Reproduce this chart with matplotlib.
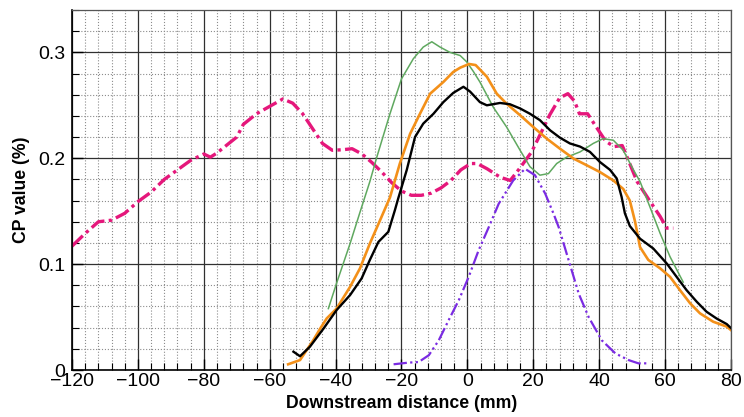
import numpy as np
import matplotlib
matplotlib.use('Agg')
import matplotlib.pyplot as plt
from matplotlib.ticker import MultipleLocator

plt.rcParams['font.family'] = ['Liberation Sans', 'DejaVu Sans']

# -----------------------------
#  Curves
# -----------------------------
pink_x = [-120, -116, -112, -108, -104, -100, -96, -92, -88, -84, -80, -78, -76, -72, -70,
          -68, -64, -60, -56, -53, -50, -47, -44, -41, -38, -35, -32, -29, -26, -23, -20,
          -17, -14, -11, -8, -5, -2, 1, 3, 6, 10, 13, 16, 19.5, 22.5, 25, 28, 30.5, 32.5,
          34, 36.5, 39, 42, 44.5, 47, 49, 51.5, 55.5, 58.5, 60.5, 62.5]
pink_y = [0.117, 0.129, 0.140, 0.1415, 0.148, 0.159, 0.168, 0.180, 0.189, 0.198, 0.204,
          0.201, 0.205, 0.215, 0.220, 0.232, 0.242, 0.249, 0.256, 0.252, 0.242, 0.228,
          0.214, 0.2075, 0.208, 0.209, 0.204, 0.196, 0.187, 0.177, 0.169, 0.165, 0.165,
          0.167, 0.172, 0.179, 0.189, 0.195, 0.195, 0.190, 0.182, 0.179, 0.191, 0.206,
          0.225, 0.241, 0.257, 0.261, 0.254, 0.242, 0.242, 0.230, 0.216, 0.211, 0.212,
          0.197, 0.178, 0.159, 0.145, 0.134, 0.134]

green_x = [-42.2, -39.7, -35.6, -32.6, -29.6, -27.5, -23.5, -20, -16.4, -13.4, -10.8, -8.3,
           -5.3, -2.2, -0.2, 1.8, 3.8, 7.9, 11.9, 16, 19, 22, 24.6, 27.1, 30.1, 34.2, 38.2,
           41.2, 44.3, 47.3, 50.4, 52.4, 55.4, 58.5, 61.5, 65.5]
green_y = [0.058, 0.082, 0.1195, 0.149, 0.178, 0.201, 0.242, 0.275, 0.294, 0.305, 0.310,
           0.305, 0.300, 0.297, 0.291, 0.282, 0.272, 0.248, 0.2295, 0.2075, 0.192, 0.184,
           0.1855, 0.195, 0.201, 0.206, 0.214, 0.2185, 0.217, 0.2075, 0.189, 0.178, 0.154,
           0.129, 0.107, 0.083]

orange_x = [-54.4, -50.8, -46.8, -44.7, -42.7, -39.7, -35.6, -32.6, -29.6, -26.5, -23.5,
            -20.5, -17.4, -14.4, -11.3, -7.3, -4.3, -2.2, 0.5, 2.5, 5.9, 8.9, 11.9, 16, 20,
            24.1, 28.1, 32.2, 36.2, 40.2, 44.3, 47.3, 49.3, 50.9, 52.4, 54.9, 58.5, 61.5,
            64.5, 67.6, 70.6, 74.6, 78.7, 80]
orange_y = [0.0054, 0.0094, 0.028, 0.039, 0.0487, 0.058, 0.0786, 0.096, 0.1195, 0.1415,
            0.163, 0.195, 0.223, 0.242, 0.261, 0.272, 0.2815, 0.2855, 0.289, 0.288, 0.277,
            0.261, 0.2515, 0.2406, 0.2295, 0.2185, 0.209, 0.1997, 0.1934, 0.187, 0.179,
            0.171, 0.160, 0.140, 0.116, 0.104, 0.096, 0.088, 0.0755, 0.063, 0.0535,
            0.0456, 0.041, 0.0377]

black_x = [-52.8, -50.8, -47.8, -43.7, -39.7, -35.6, -32.1, -29.6, -27, -24, -22, -21,
           -18.4, -15.9, -13.4, -10.3, -7.3, -4.3, -1.2, 0.8, 3.8, 5.9, 9.9, 12.9, 16, 19,
           22, 25.1, 28.1, 31.1, 34.2, 37.2, 40.2, 43.3, 45.3, 46.8, 47.8, 49.3, 52.4,
           56.4, 60.5, 63.5, 66.5, 69.6, 72.6, 75.6, 78.7, 80.2]
black_y = [0.0173, 0.013, 0.022, 0.039, 0.0566, 0.0708, 0.0865, 0.104, 0.121, 0.1305,
           0.151, 0.162, 0.189, 0.220, 0.2327, 0.242, 0.253, 0.2617, 0.2675, 0.263, 0.253,
           0.250, 0.2522, 0.251, 0.247, 0.242, 0.236, 0.2264, 0.2194, 0.214, 0.211, 0.206,
           0.1965, 0.189, 0.181, 0.1635, 0.148, 0.136, 0.124, 0.1148, 0.1006, 0.088,
           0.0755, 0.0645, 0.055, 0.0487, 0.0434, 0.039]

purple_x = [-22.4, -17.8, -14.8, -11.7, -8.7, -5.7, -2.6, 0.4, 3.4, 6.5, 9.5, 13.9, 17.5,
            20.5, 23.6, 26.1, 27.7, 30.7, 33.8, 36.8, 40.8, 44.9, 48.9, 51.9, 54.5]
purple_y = [0.0054, 0.007, 0.0075, 0.014, 0.028, 0.047, 0.066, 0.088, 0.113, 0.135, 0.157,
            0.179, 0.190, 0.184, 0.1667, 0.148, 0.135, 0.104, 0.072, 0.050, 0.028, 0.0157,
            0.0094, 0.0063, 0.0063]

xticks = [-120, -100, -80, -60, -40, -20, 0, 20, 40, 60, 80]
yticks = [0, 0.1, 0.2, 0.3]
ytick_labels = ['0', '0.1', '0.2', '0.3']

# ---------
#  Figure
# ---------
fig = plt.figure(figsize=(7.44, 4.17), dpi=100)
ax = fig.add_axes([0.0968, 0.1127, 0.8857, 0.8633])

ax.plot(pink_x, pink_y, color='#e5177b', linewidth=2.4, dashes=(4.5, 1.3, 1, 1.3),
        solid_capstyle='butt')
ax.plot(purple_x, purple_y, color='#7a2be2', linewidth=1.6, dashes=(6, 1.5, 1, 1.5, 1, 1.5))
ax.plot(green_x, green_y, color='#5fa85f', linewidth=1.1)
ax.plot(orange_x, orange_y, color='#f39019', linewidth=1.9)
ax.plot(black_x, black_y, color='black', linewidth=1.7)

ax.set_xlim(-120, 80)
ax.set_ylim(0, 0.34)
ax.set_xticks(xticks)
ax.set_yticks(yticks)
ax.set_yticklabels(ytick_labels)
ax.xaxis.set_minor_locator(MultipleLocator(4))
ax.yaxis.set_minor_locator(MultipleLocator(0.02))

ax.grid(which='major', color='#303030', linestyle='-', linewidth=0.9)
ax.grid(which='minor', color='#8c8c8c', linestyle=':', linewidth=0.8)
ax.set_axisbelow(True)

ax.tick_params(which='major', direction='in', length=8, width=1.0, labelsize=14)
ax.tick_params(axis='x', which='major', pad=2)
ax.tick_params(axis='y', which='major', pad=5)
ax.tick_params(which='minor', direction='in', length=5, width=0.8)
for s in ['top', 'right']:
    ax.spines[s].set_color('#555555')
    ax.spines[s].set_linewidth(0.9)
for s in ['left', 'bottom']:
    ax.spines[s].set_linewidth(1.2)

ax.set_xlabel('Downstream distance (mm)', fontsize=12.7, fontweight='bold', labelpad=4)
ax.set_ylabel('CP value (%)', fontsize=12.7, fontweight='bold', labelpad=6)

fig.savefig('out.png', dpi=100)
